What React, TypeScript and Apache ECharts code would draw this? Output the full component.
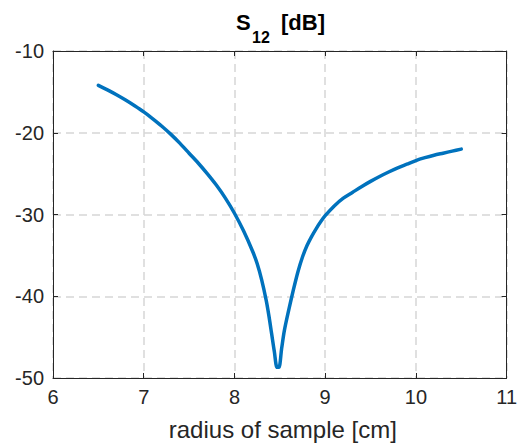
import React, { useEffect, useRef } from "react";
import * as echarts from "echarts";

const radius = [
  6.5, 6.6, 6.7, 6.8, 6.9, 7.0, 7.1, 7.2, 7.3, 7.4, 7.5, 7.6, 7.7, 7.8, 7.9, 8.0,
  8.1, 8.2, 8.25, 8.3, 8.35, 8.38, 8.41, 8.44, 8.47, 8.49, 8.52, 8.55, 8.6, 8.65,
  8.7, 8.75, 8.8, 8.85, 8.9, 8.95, 9.0, 9.1, 9.2, 9.3, 9.4, 9.5, 9.6, 9.7, 9.8,
  9.9, 10.0, 10.1, 10.2, 10.3, 10.4, 10.5,
];
const s12 = [
  -14.2, -14.75, -15.35, -16.0, -16.7, -17.45, -18.3, -19.2, -20.2, -21.3, -22.5,
  -23.7, -25.0, -26.4, -28.0, -29.85, -32.0, -34.5, -36.0, -38.0, -40.5, -42.4,
  -44.6, -46.8, -48.7, -48.7, -46.4, -44.2, -41.6, -39.2, -37.0, -35.2, -33.8,
  -32.7, -31.75, -30.9, -30.15, -28.95, -28.0, -27.3, -26.6, -25.95, -25.35,
  -24.8, -24.3, -23.85, -23.4, -23.05, -22.75, -22.5, -22.25, -22.0,
];
const xTicks = [6, 7, 8, 9, 10, 11];
const yTicks = [-50, -40, -30, -20, -10];
const titleMain = "S";
const titleSub = "12";
const titleUnit = "[dB]";
const xName = "radius of sample [cm]";

const TXT = "#262626";
const FONT = "'Liberation Sans', Arial, Helvetica, sans-serif";

export default function App() {
  const ref = useRef<HTMLDivElement>(null);
  useEffect(() => {
    if (!ref.current) return;
    const chart = echarts.init(ref.current, null, { renderer: "svg" });
    const xMin = xTicks[0];
    const xMax = xTicks[xTicks.length - 1];
    const yMin = yTicks[0];
    const yMax = yTicks[yTicks.length - 1];
    const baseAxis = {
      axisLine: { show: true, onZero: false, lineStyle: { color: TXT, width: 1 } },
      axisTick: { show: true, inside: true, length: 5, lineStyle: { color: TXT, width: 1 } },
    };
    chart.setOption({
      animation: false,
      backgroundColor: "#ffffff",
      grid: { left: 53, right: 9, top: 51, bottom: 68, containLabel: false },
      graphic: [
        {
          type: "text",
          x: 236,
          y: 22,
          style: { text: titleMain, fontFamily: FONT, fontSize: 22, fontWeight: "bold", fill: "#000", textVerticalAlign: "middle" },
        },
        {
          type: "text",
          x: 252,
          y: 37,
          style: { text: titleSub, fontFamily: FONT, fontSize: 16, fontWeight: "bold", fill: "#000", textVerticalAlign: "middle" },
        },
        {
          type: "text",
          x: 281,
          y: 22,
          style: { text: titleUnit, fontFamily: FONT, fontSize: 22, fontWeight: "bold", fill: "#000", textVerticalAlign: "middle" },
        },
      ],
      xAxis: [
        {
          ...baseAxis,
          type: "value",
          position: "bottom",
          min: xMin,
          max: xMax,
          interval: 1,
          name: xName,
          nameLocation: "middle",
          nameGap: 39,
          nameTextStyle: { color: TXT, fontSize: 24, fontFamily: FONT, padding: [0, 0, 0, 6] },
          axisLabel: { color: TXT, fontSize: 20, fontFamily: FONT, margin: 9 },
          splitLine: { show: true, lineStyle: { color: "#d6d6d6", width: 1.5, type: [8, 5] } },
        },
        {
          ...baseAxis,
          type: "value",
          position: "top",
          min: xMin,
          max: xMax,
          interval: 1,
          axisLabel: { show: false },
          splitLine: { show: false },
        },
      ],
      yAxis: [
        {
          ...baseAxis,
          type: "value",
          position: "left",
          min: yMin,
          max: yMax,
          interval: 10,
          axisLabel: { color: TXT, fontSize: 20, fontFamily: FONT, margin: 9 },
          splitLine: { show: true, lineStyle: { color: "#d6d6d6", width: 1.5, type: [8, 5] } },
        },
        {
          ...baseAxis,
          type: "value",
          position: "right",
          min: yMin,
          max: yMax,
          interval: 10,
          axisLabel: { show: false },
          splitLine: { show: false },
        },
      ],
      series: [
        {
          type: "line",
          xAxisIndex: 0,
          yAxisIndex: 0,
          data: radius.map((r, i) => [r, s12[i]]),
          showSymbol: false,
          smooth: 0.3,
          lineStyle: { color: "#0072BD", width: 3.5, join: "round", cap: "round" },
        },
      ],
    });
    return () => chart.dispose();
  }, []);
  return (
    <div
      ref={ref}
      style={{ position: "fixed", left: 0, top: 0, width: 520, height: 446, background: "#fff" }}
    />
  );
}
